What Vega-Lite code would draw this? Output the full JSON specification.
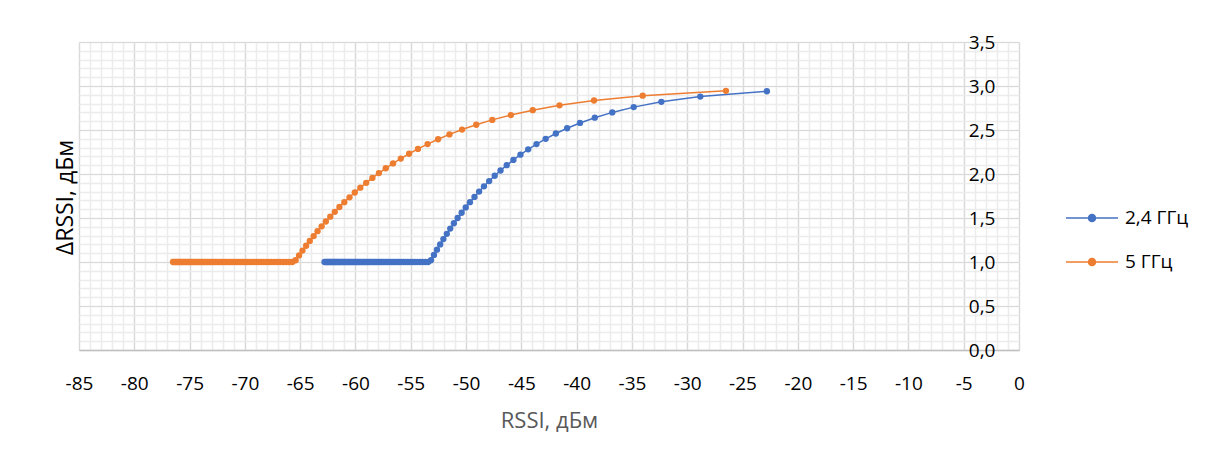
{
"$schema": "https://vega.github.io/schema/vega-lite/v6.json",
"width": 940, "height": 308,
"autosize": {"type": "none"},
"padding": {"left": 79, "top": 42, "right": 188, "bottom": 108},
"background": "white",
"config": {"view": {"stroke": null}, "font": "Open Sans"},
"data": {"values": [
{"s":"2,4 ГГц","x":-22.80,"y":2.94},{"s":"2,4 ГГц","x":-28.82,"y":2.88},{"s":"2,4 ГГц","x":-32.34,"y":2.82},{"s":"2,4 ГГц","x":-34.84,"y":2.76},{"s":"2,4 ГГц","x":-36.78,"y":2.70},{"s":"2,4 ГГц","x":-38.36,"y":2.64},{"s":"2,4 ГГц","x":-39.70,"y":2.58},{"s":"2,4 ГГц","x":-40.86,"y":2.52},{"s":"2,4 ГГц","x":-41.88,"y":2.46},{"s":"2,4 ГГц","x":-42.80,"y":2.40},
{"s":"2,4 ГГц","x":-43.63,"y":2.34},{"s":"2,4 ГГц","x":-44.38,"y":2.28},{"s":"2,4 ГГц","x":-45.08,"y":2.22},{"s":"2,4 ГГц","x":-45.72,"y":2.16},{"s":"2,4 ГГц","x":-46.32,"y":2.10},{"s":"2,4 ГГц","x":-46.88,"y":2.04},{"s":"2,4 ГГц","x":-47.41,"y":1.98},{"s":"2,4 ГГц","x":-47.91,"y":1.92},{"s":"2,4 ГГц","x":-48.38,"y":1.86},{"s":"2,4 ГГц","x":-48.82,"y":1.80},
{"s":"2,4 ГГц","x":-49.24,"y":1.74},{"s":"2,4 ГГц","x":-49.65,"y":1.68},{"s":"2,4 ГГц","x":-50.03,"y":1.62},{"s":"2,4 ГГц","x":-50.40,"y":1.56},{"s":"2,4 ГГц","x":-50.76,"y":1.50},{"s":"2,4 ГГц","x":-51.10,"y":1.44},{"s":"2,4 ГГц","x":-51.43,"y":1.38},{"s":"2,4 ГГц","x":-51.74,"y":1.32},{"s":"2,4 ГГц","x":-52.05,"y":1.26},{"s":"2,4 ГГц","x":-52.34,"y":1.20},
{"s":"2,4 ГГц","x":-52.63,"y":1.14},{"s":"2,4 ГГц","x":-52.90,"y":1.08},{"s":"2,4 ГГц","x":-53.17,"y":1.02},{"s":"2,4 ГГц","x":-53.43,"y":1},{"s":"2,4 ГГц","x":-53.68,"y":1},{"s":"2,4 ГГц","x":-53.93,"y":1},{"s":"2,4 ГГц","x":-54.16,"y":1},{"s":"2,4 ГГц","x":-54.40,"y":1},{"s":"2,4 ГГц","x":-54.62,"y":1},{"s":"2,4 ГГц","x":-54.84,"y":1},
{"s":"2,4 ГГц","x":-55.06,"y":1},{"s":"2,4 ГГц","x":-55.27,"y":1},{"s":"2,4 ГГц","x":-55.47,"y":1},{"s":"2,4 ГГц","x":-55.67,"y":1},{"s":"2,4 ГГц","x":-55.86,"y":1},{"s":"2,4 ГГц","x":-56.06,"y":1},{"s":"2,4 ГГц","x":-56.24,"y":1},{"s":"2,4 ГГц","x":-56.42,"y":1},{"s":"2,4 ГГц","x":-56.60,"y":1},{"s":"2,4 ГГц","x":-56.78,"y":1},
{"s":"2,4 ГГц","x":-56.95,"y":1},{"s":"2,4 ГГц","x":-57.12,"y":1},{"s":"2,4 ГГц","x":-57.29,"y":1},{"s":"2,4 ГГц","x":-57.45,"y":1},{"s":"2,4 ГГц","x":-57.61,"y":1},{"s":"2,4 ГГц","x":-57.76,"y":1},{"s":"2,4 ГГц","x":-57.92,"y":1},{"s":"2,4 ГГц","x":-58.07,"y":1},{"s":"2,4 ГГц","x":-58.22,"y":1},{"s":"2,4 ГГц","x":-58.36,"y":1},
{"s":"2,4 ГГц","x":-58.51,"y":1},{"s":"2,4 ГГц","x":-58.65,"y":1},{"s":"2,4 ГГц","x":-58.79,"y":1},{"s":"2,4 ГГц","x":-58.92,"y":1},{"s":"2,4 ГГц","x":-59.06,"y":1},{"s":"2,4 ГГц","x":-59.19,"y":1},{"s":"2,4 ГГц","x":-59.32,"y":1},{"s":"2,4 ГГц","x":-59.45,"y":1},{"s":"2,4 ГГц","x":-59.58,"y":1},{"s":"2,4 ГГц","x":-59.70,"y":1},
{"s":"2,4 ГГц","x":-59.83,"y":1},{"s":"2,4 ГГц","x":-59.95,"y":1},{"s":"2,4 ГГц","x":-60.07,"y":1},{"s":"2,4 ГГц","x":-60.18,"y":1},{"s":"2,4 ГГц","x":-60.30,"y":1},{"s":"2,4 ГГц","x":-60.42,"y":1},{"s":"2,4 ГГц","x":-60.53,"y":1},{"s":"2,4 ГГц","x":-60.64,"y":1},{"s":"2,4 ГГц","x":-60.75,"y":1},{"s":"2,4 ГГц","x":-60.86,"y":1},
{"s":"2,4 ГГц","x":-60.97,"y":1},{"s":"2,4 ГГц","x":-61.08,"y":1},{"s":"2,4 ГГц","x":-61.18,"y":1},{"s":"2,4 ГГц","x":-61.29,"y":1},{"s":"2,4 ГГц","x":-61.39,"y":1},{"s":"2,4 ГГц","x":-61.49,"y":1},{"s":"2,4 ГГц","x":-61.59,"y":1},{"s":"2,4 ГГц","x":-61.69,"y":1},{"s":"2,4 ГГц","x":-61.79,"y":1},{"s":"2,4 ГГц","x":-61.88,"y":1},
{"s":"2,4 ГГц","x":-61.98,"y":1},{"s":"2,4 ГГц","x":-62.08,"y":1},{"s":"2,4 ГГц","x":-62.17,"y":1},{"s":"2,4 ГГц","x":-62.26,"y":1},{"s":"2,4 ГГц","x":-62.35,"y":1},{"s":"2,4 ГГц","x":-62.45,"y":1},{"s":"2,4 ГГц","x":-62.54,"y":1},{"s":"2,4 ГГц","x":-62.62,"y":1},{"s":"2,4 ГГц","x":-62.71,"y":1},{"s":"2,4 ГГц","x":-62.80,"y":1},
{"s":"5 ГГц","x":-26.50,"y":2.945},{"s":"5 ГГц","x":-34.03,"y":2.89},{"s":"5 ГГц","x":-38.43,"y":2.835},{"s":"5 ГГц","x":-41.55,"y":2.78},{"s":"5 ГГц","x":-43.97,"y":2.725},{"s":"5 ГГц","x":-45.95,"y":2.67},{"s":"5 ГГц","x":-47.63,"y":2.615},{"s":"5 ГГц","x":-49.08,"y":2.56},{"s":"5 ГГц","x":-50.36,"y":2.505},{"s":"5 ГГц","x":-51.50,"y":2.45},
{"s":"5 ГГц","x":-52.53,"y":2.395},{"s":"5 ГГц","x":-53.48,"y":2.34},{"s":"5 ГГц","x":-54.35,"y":2.285},{"s":"5 ГГц","x":-55.15,"y":2.23},{"s":"5 ГГц","x":-55.90,"y":2.175},{"s":"5 ГГц","x":-56.60,"y":2.12},{"s":"5 ГГц","x":-57.26,"y":2.065},{"s":"5 ГГц","x":-57.88,"y":2.01},{"s":"5 ГГц","x":-58.47,"y":1.955},{"s":"5 ГГц","x":-59.03,"y":1.90},
{"s":"5 ГГц","x":-59.56,"y":1.845},{"s":"5 ГГц","x":-60.06,"y":1.79},{"s":"5 ГГц","x":-60.54,"y":1.735},{"s":"5 ГГц","x":-61.01,"y":1.68},{"s":"5 ГГц","x":-61.45,"y":1.625},{"s":"5 ГГц","x":-61.87,"y":1.57},{"s":"5 ГГц","x":-62.28,"y":1.515},{"s":"5 ГГц","x":-62.68,"y":1.46},{"s":"5 ГГц","x":-63.06,"y":1.405},{"s":"5 ГГц","x":-63.43,"y":1.35},
{"s":"5 ГГц","x":-63.78,"y":1.295},{"s":"5 ГГц","x":-64.13,"y":1.24},{"s":"5 ГГц","x":-64.46,"y":1.185},{"s":"5 ГГц","x":-64.79,"y":1.13},{"s":"5 ГГц","x":-65.10,"y":1.075},{"s":"5 ГГц","x":-65.41,"y":1.02},{"s":"5 ГГц","x":-65.71,"y":1},{"s":"5 ГГц","x":-65.99,"y":1},{"s":"5 ГГц","x":-66.28,"y":1},{"s":"5 ГГц","x":-66.55,"y":1},
{"s":"5 ГГц","x":-66.82,"y":1},{"s":"5 ГГц","x":-67.08,"y":1},{"s":"5 ГГц","x":-67.34,"y":1},{"s":"5 ГГц","x":-67.59,"y":1},{"s":"5 ГГц","x":-67.83,"y":1},{"s":"5 ГГц","x":-68.07,"y":1},{"s":"5 ГГц","x":-68.30,"y":1},{"s":"5 ГГц","x":-68.53,"y":1},{"s":"5 ГГц","x":-68.76,"y":1},{"s":"5 ГГц","x":-68.97,"y":1},
{"s":"5 ГГц","x":-69.19,"y":1},{"s":"5 ГГц","x":-69.40,"y":1},{"s":"5 ГГц","x":-69.61,"y":1},{"s":"5 ГГц","x":-69.81,"y":1},{"s":"5 ГГц","x":-70.01,"y":1},{"s":"5 ГГц","x":-70.20,"y":1},{"s":"5 ГГц","x":-70.40,"y":1},{"s":"5 ГГц","x":-70.59,"y":1},{"s":"5 ГГц","x":-70.77,"y":1},{"s":"5 ГГц","x":-70.95,"y":1},
{"s":"5 ГГц","x":-71.13,"y":1},{"s":"5 ГГц","x":-71.31,"y":1},{"s":"5 ГГц","x":-71.48,"y":1},{"s":"5 ГГц","x":-71.65,"y":1},{"s":"5 ГГц","x":-71.82,"y":1},{"s":"5 ГГц","x":-71.99,"y":1},{"s":"5 ГГц","x":-72.15,"y":1},{"s":"5 ГГц","x":-72.31,"y":1},{"s":"5 ГГц","x":-72.47,"y":1},{"s":"5 ГГц","x":-72.63,"y":1},
{"s":"5 ГГц","x":-72.78,"y":1},{"s":"5 ГГц","x":-72.93,"y":1},{"s":"5 ГГц","x":-73.08,"y":1},{"s":"5 ГГц","x":-73.23,"y":1},{"s":"5 ГГц","x":-73.38,"y":1},{"s":"5 ГГц","x":-73.52,"y":1},{"s":"5 ГГц","x":-73.66,"y":1},{"s":"5 ГГц","x":-73.80,"y":1},{"s":"5 ГГц","x":-73.94,"y":1},{"s":"5 ГГц","x":-74.08,"y":1},
{"s":"5 ГГц","x":-74.21,"y":1},{"s":"5 ГГц","x":-74.35,"y":1},{"s":"5 ГГц","x":-74.48,"y":1},{"s":"5 ГГц","x":-74.61,"y":1},{"s":"5 ГГц","x":-74.74,"y":1},{"s":"5 ГГц","x":-74.86,"y":1},{"s":"5 ГГц","x":-74.99,"y":1},{"s":"5 ГГц","x":-75.11,"y":1},{"s":"5 ГГц","x":-75.23,"y":1},{"s":"5 ГГц","x":-75.36,"y":1},
{"s":"5 ГГц","x":-75.48,"y":1},{"s":"5 ГГц","x":-75.59,"y":1},{"s":"5 ГГц","x":-75.71,"y":1},{"s":"5 ГГц","x":-75.83,"y":1},{"s":"5 ГГц","x":-75.94,"y":1},{"s":"5 ГГц","x":-76.06,"y":1},{"s":"5 ГГц","x":-76.17,"y":1},{"s":"5 ГГц","x":-76.28,"y":1},{"s":"5 ГГц","x":-76.39,"y":1},{"s":"5 ГГц","x":-76.50,"y":1}
]},
"layer": [
{
"mark": {"type": "line", "strokeWidth": 1.5},
"encoding": {
"x": {"field": "x", "type": "quantitative", "scale": {"domain": [-85, 0], "nice": false, "zero": false},
"axis": {"orient": "top", "values": [-85,-84,-83,-82,-81,-80,-79,-78,-77,-76,-75,-74,-73,-72,-71,-70,-69,-68,-67,-66,-65,-64,-63,-62,-61,-60,-59,-58,-57,-56,-55,-54,-53,-52,-51,-50,-49,-48,-47,-46,-45,-44,-43,-42,-41,-40,-39,-38,-37,-36,-35,-34,-33,-32,-31,-30,-29,-28,-27,-26,-25,-24,-23,-22,-21,-20,-19,-18,-17,-16,-15,-14,-13,-12,-11,-10,-9,-8,-7,-6,-5,-4,-3,-2,-1,0], "grid": true, "gridColor": "#ececec", "gridWidth": 1.5, "labels": false, "ticks": false, "domain": false, "title": null}},
"y": {"field": "y", "type": "quantitative", "scale": {"domain": [0, 3.5], "nice": false},
"axis": {"orient": "right", "values": [0,0.1,0.2,0.3,0.4,0.5,0.6,0.7,0.8,0.9,1,1.1,1.2,1.3,1.4,1.5,1.6,1.7,1.8,1.9,2,2.1,2.2,2.3,2.4,2.5,2.6,2.7,2.8,2.9,3,3.1,3.2,3.3,3.4,3.5], "grid": true, "gridColor": "#ececec", "gridWidth": 1.5, "labels": false, "ticks": false, "domain": false, "title": null}},
"color": {"field": "s", "type": "nominal", "scale": {"domain": ["2,4 ГГц", "5 ГГц"], "range": ["#4472C4", "#ED7D31"]}}
}
},
{
"mark": {"type": "point", "filled": true, "size": 40, "opacity": 1},
"encoding": {
"x": {"field": "x", "type": "quantitative", "scale": {"domain": [-85, 0], "nice": false, "zero": false},
"axis": {"orient": "bottom", "values": [-85,-80,-75,-70,-65,-60,-55,-50,-45,-40,-35,-30,-25,-20,-15,-10,-5,0], "grid": true, "gridColor": "#d9d9d9", "gridWidth": 1.2, "ticks": false, "domain": true, "domainColor": "#bfbfbf", "domainWidth": 1.3, "labelFontSize": 19, "labelColor": "#000000", "labelPadding": 24, "labelFlush": false, "labelOverlap": false, "labelExpr": "'' + datum.value", "title": "RSSI, дБм", "titleFontSize": 22, "titleFontWeight": "normal", "titleColor": "#595959", "titleY": 77, "titleBaseline": "alphabetic"}},
"y": {"field": "y", "type": "quantitative", "scale": {"domain": [0, 3.5], "nice": false},
"axis": {"orient": "left", "offset": -940, "values": [0,0.5,1,1.5,2,2.5,3,3.5], "grid": true, "gridColor": "#d9d9d9", "gridWidth": 1.2, "ticks": false, "domain": false, "labelFontSize": 19, "labelColor": "#000000", "labelPadding": 24, "labelFlush": false, "labelOverlap": false, "labelExpr": "replace(format(datum.value, '.1f'), '.', ',')", "title": "ΔRSSI, дБм", "titleFontSize": 23, "titleFontWeight": "normal", "titleColor": "#000000", "titleX": -947, "titleY": 155, "titleAngle": 270, "titleAlign": "center", "titleBaseline": "alphabetic"}},
"color": {"field": "s", "type": "nominal", "scale": {"domain": ["2,4 ГГц", "5 ГГц"], "range": ["#4472C4", "#ED7D31"]},
"legend": {"orient": "none", "legendX": 999, "legendY": 162, "title": null, "padding": 0, "symbolType": "M-2,0L2,0M0.27,0A0.27,0.27,0,1,1,-0.27,0A0.27,0.27,0,1,1,0.27,0Z", "symbolSize": 676, "symbolStrokeWidth": 1.5, "labelFontSize": 19, "labelColor": "#000000", "labelOffset": 19, "rowPadding": 20,
"encode": {"symbols": {"update": {"fill": {"scale": "color", "field": "value"}, "stroke": {"scale": "color", "field": "value"}, "opacity": {"value": 1}}}}}}
}
}
],
"resolve": {"axis": {"x": "independent", "y": "independent"}}
}
